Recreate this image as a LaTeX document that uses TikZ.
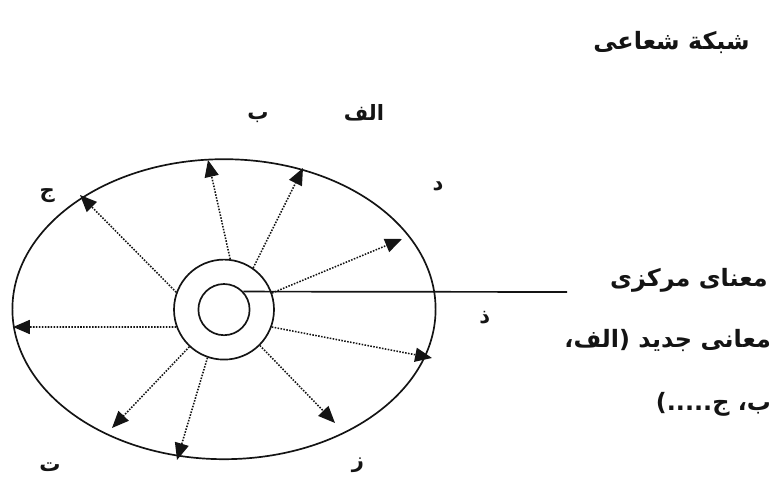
\documentclass[tikz,border=0pt]{standalone}
\usepackage{fontspec}
\usepackage{tikz}
\usetikzlibrary{arrows.meta, positioning, shapes.geometric}
\TeXXeTstate=1
\newfontfamily\arabicfont[Script=Arabic]{DejaVu Sans}
\definecolor{mydark}{RGB}{20,20,20}
\tikzset{
  ring/.style={circle, draw=mydark, line width=1.2pt, inner sep=0pt},
  ray/.style={-{Triangle[length=12pt,width=10pt]}, densely dotted, line width=1.1pt, color=mydark},
  letter/.style={font=\arabicfont\bfseries\fontsize{15}{18}\selectfont, color=mydark, inner sep=0pt},
  note/.style={font=\arabicfont\bfseries\fontsize{17}{20}\selectfont, color=mydark, inner sep=0pt}
}

\begin{document}
\begin{tikzpicture}
  \useasboundingbox (0,0) rectangle (19.3,12);
  % Title
  \node[note, anchor=east] (title) at (18.75,10.95) {\beginR شبکة شعاعی\endR};
  % Outer field
  \node[ellipse, draw=mydark, line width=1.2pt, minimum width=10.58cm,
    minimum height=7.5cm, inner sep=0pt] (field) at (5.6,4.27) {};
  % Core rings
  \node[ring, minimum size=2.5cm] (core) at (5.6,4.26) {};
  \node[ring, minimum size=1.28cm] (kern) at (5.6,4.26) {};
  % Ray tips
  \coordinate (t1) at (5.2,8.0);
  \coordinate (t2) at (7.575,7.8);
  \coordinate (t3) at (10.05,6.025);
  \coordinate (t4) at (10.8,3.05);
  \coordinate (t5) at (8.375,1.425);
  \coordinate (t6) at (4.425,0.5);
  \coordinate (t7) at (2.8,1.3);
  \coordinate (t8) at (0.325,3.825);
  \coordinate (t9) at (2.0,7.125);
  % Rays
  \draw[ray] (core.83) -- (t1);
  \draw[ray] (core.55) -- (t2);
  \draw[ray] (core.19) -- (t3);
  \draw[ray] (core.-20) -- (t4);
  \draw[ray] (core.-45) -- (t5);
  \draw[ray] (core.-109) -- (t6);
  \draw[ray] (core.-133) -- (t7);
  \draw[ray] (core.-160) -- (t8);
  \draw[ray] (core.160) -- (t9);
  % Ray labels
  \node[letter] (la) at (9.1,9.18) {\beginR الف\endR};
  \node[letter] (lb) at (6.45,9.05) {\beginR ب\endR};
  \node[letter] (lj) at (1.18,7.12) {\beginR ج\endR};
  \node[letter] (ld) at (10.95,7.35) {\beginR د\endR};
  \node[letter] (lz) at (12.12,4.05) {\beginR ذ\endR};
  \node[letter] (lr) at (8.95,0.38) {\beginR ز\endR};
  \node[letter] (lt) at (1.25,0.33) {\beginR ت\endR};
  % Central meaning
  \coordinate (lead) at (14.175,4.7);
  \draw[line width=1.2pt, color=mydark] (kern.43) -- (lead);
  \node[note, anchor=east] (centre) at (19.2,4.98) {\beginR معنای مرکزی\endR};
  % New meanings
  \node[note, anchor=east] (newa) at (19.28,3.5) {\beginR معانی جدید (الف،\endR};
  \node[note, anchor=east] (newb) at (19.28,1.88) {\beginR ب، ج.....)\endR};
\end{tikzpicture}
\end{document}
